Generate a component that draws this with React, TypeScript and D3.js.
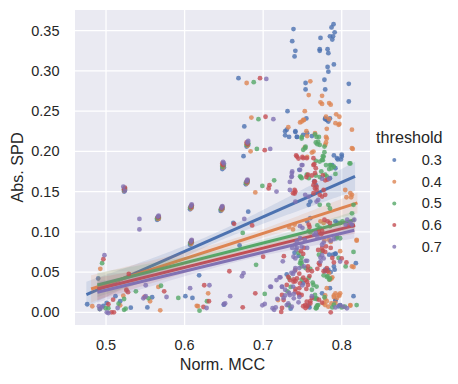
import React from "react";
import * as d3 from "d3";

type P = [number, number];

const thresholds = ["0.3", "0.4", "0.5", "0.6", "0.7"];
const colors = ["#4c72b0", "#dd8452", "#55a868", "#c44e52", "#8172b3"];
const xTicks = [0.5, 0.6, 0.7, 0.8];
const yTicks = [0, 0.05, 0.1, 0.15, 0.2, 0.25, 0.3, 0.35];

const pts03: P[] = [
  [0.7386, 0.352], [0.737, 0.337], [0.741, 0.325], [0.74, 0.318], [0.7896, 0.358], [0.787, 0.354], [0.791, 0.348],
  [0.785, 0.343], [0.789, 0.343], [0.788, 0.339], [0.773, 0.341], [0.772, 0.327], [0.772, 0.325], [0.782, 0.327],
  [0.783, 0.322], [0.79, 0.308], [0.782, 0.305], [0.783, 0.299], [0.6686, 0.291], [0.778, 0.289], [0.754, 0.285],
  [0.754, 0.277], [0.779, 0.277], [0.809, 0.284], [0.809, 0.262], [0.731, 0.25], [0.755, 0.241], [0.779, 0.24],
  [0.676, 0.231], [0.728, 0.225], [0.733, 0.218], [0.728, 0.22], [0.741, 0.224], [0.762, 0.219], [0.743, 0.218],
  [0.675, 0.194], [0.79, 0.195], [0.795, 0.19], [0.799, 0.19], [0.8, 0.196], [0.788, 0.183], [0.792, 0.179], [0.746, 0.177],
  [0.765, 0.163], [0.767, 0.158], [0.681, 0.125], [0.662, 0.111], [0.76, 0.117], [0.756, 0.113], [0.792, 0.113],
  [0.795, 0.111], [0.74, 0.074], [0.745, 0.07], [0.784, 0.0716], [0.792, 0.0725], [0.789, 0.0716], [0.818, 0.061],
  [0.779, 0.053], [0.786, 0.05], [0.791, 0.053], [0.79, 0.057], [0.73, 0.047], [0.751, 0.0364], [0.775, 0.0236],
  [0.815, 0.02], [0.759, 0.006], [0.758, 0.0087], [0.792, 0.0145], [0.796, 0.0075], [0.735, 0.0045], [0.67, 0.083],
  [0.65, 0.0095], [0.6185, 0.046], [0.601, 0.02], [0.61, 0.0178], [0.5587, 0.0187], [0.5526, 0.006], [0.5315, 0.0057],
  [0.518, 0.0137], [0.512, 0.02], [0.4966, 0.008], [0.5008, 0.0116], [0.476, 0.01], [0.49, 0.042],
  [0.779, 0.241], [0.781, 0.239], [0.785, 0.241], [0.783, 0.237], [0.73, 0.227], [0.741, 0.225], [0.743, 0.218],
  [0.751, 0.2205], [0.756, 0.2226], [0.794, 0.1915], [0.8, 0.1935], [0.785, 0.1667], [0.76, 0.1376], [0.758, 0.1335],
  [0.779, 0.051], [0.783, 0.0526], [0.785, 0.03], [0.798, 0.009], [0.792, 0.0153], [0.792, 0.073],
  [0.523, 0.15], [0.524, 0.152], [0.648, 0.178], [0.65, 0.18], [0.607, 0.128], [0.609, 0.13], [0.646, 0.126],
  [0.648, 0.128], [0.679, 0.206], [0.681, 0.208], [0.678, 0.159], [0.68, 0.161], [0.565, 0.115], [0.567, 0.116],
  [0.607, 0.084], [0.609, 0.086],
];

const pts04: P[] = [
  [0.679, 0.285], [0.76, 0.287], [0.758, 0.27], [0.775, 0.269], [0.773, 0.261], [0.775, 0.259], [0.784, 0.26],
  [0.786, 0.258], [0.753, 0.25], [0.793, 0.246], [0.685, 0.242], [0.752, 0.239], [0.78, 0.243], [0.784, 0.24],
  [0.797, 0.243], [0.792, 0.235], [0.797, 0.234], [0.747, 0.236], [0.732, 0.23], [0.756, 0.219], [0.755, 0.225],
  [0.781, 0.228], [0.78, 0.218], [0.78, 0.211], [0.753, 0.205], [0.814, 0.203], [0.813, 0.227], [0.684, 0.2],
  [0.756, 0.193], [0.762, 0.1985], [0.69, 0.149], [0.806, 0.143], [0.812, 0.143], [0.74, 0.109], [0.738, 0.103],
  [0.733, 0.106], [0.773, 0.113], [0.777, 0.111], [0.784, 0.09], [0.786, 0.0875], [0.778, 0.0895], [0.798, 0.076],
  [0.819, 0.089], [0.815, 0.0563], [0.784, 0.049], [0.788, 0.0435], [0.785, 0.0405], [0.779, 0.021], [0.779, 0.0165],
  [0.781, 0.0137], [0.79, 0.021], [0.794, 0.0178], [0.792, 0.0116], [0.797, 0.0207], [0.811, 0.0082], [0.719, 0.0153],
  [0.63, 0.0236], [0.6155, 0.008], [0.617, 0.0075], [0.569, 0.0025], [0.5666, 0.0315], [0.556, 0.0137], [0.526, 0.027],
  [0.518, 0.0087], [0.522, 0.0207], [0.4825, 0.0075], [0.4927, 0.054],
  [0.751, 0.239], [0.749, 0.237], [0.796, 0.233], [0.766, 0.2226], [0.781, 0.216], [0.779, 0.208], [0.813, 0.204],
  [0.764, 0.1998], [0.8045, 0.152], [0.811, 0.148], [0.813, 0.146], [0.787, 0.042], [0.781, 0.03], [0.792, 0.0236],
  [0.796, 0.0215], [0.798, 0.0236], [0.79, 0.019], [0.777, 0.011], [0.779, 0.009], [0.783, 0.007], [0.787, 0.011],
  [0.811, 0.009], [0.813, 0.057], [0.819, 0.09],
  [0.523, 0.151], [0.524, 0.153], [0.649, 0.18], [0.648, 0.182], [0.608, 0.129], [0.609, 0.131], [0.647, 0.127],
  [0.648, 0.129], [0.68, 0.207], [0.679, 0.209], [0.679, 0.16], [0.68, 0.162], [0.566, 0.116], [0.567, 0.117],
  [0.608, 0.085], [0.609, 0.087],
];

const pts05: P[] = [
  [0.688, 0.286], [0.694, 0.24], [0.692, 0.203], [0.749, 0.218], [0.766, 0.221], [0.771, 0.218], [0.767, 0.211],
  [0.769, 0.209], [0.778, 0.206], [0.754, 0.206], [0.767, 0.188], [0.776, 0.194], [0.778, 0.199], [0.776, 0.189],
  [0.81, 0.185], [0.78, 0.183], [0.786, 0.183], [0.784, 0.178], [0.748, 0.168], [0.767, 0.17], [0.772, 0.168],
  [0.774, 0.175], [0.792, 0.172], [0.699, 0.157], [0.714, 0.164], [0.815, 0.1335], [0.813, 0.123], [0.674, 0.0986],
  [0.758, 0.101], [0.76, 0.0995], [0.772, 0.105], [0.769, 0.108], [0.785, 0.107], [0.798, 0.111], [0.801, 0.113],
  [0.793, 0.092], [0.771, 0.0716], [0.775, 0.076], [0.745, 0.0738], [0.749, 0.0684], [0.815, 0.075], [0.796, 0.0675],
  [0.805, 0.057], [0.748, 0.064], [0.749, 0.061], [0.76, 0.054], [0.749, 0.0406], [0.733, 0.0427], [0.782, 0.045],
  [0.784, 0.0406], [0.758, 0.0427], [0.763, 0.0369], [0.735, 0.0315], [0.731, 0.026], [0.765, 0.017], [0.768, 0.0165],
  [0.778, 0.0187], [0.768, 0.0053], [0.769, 0.0087], [0.767, 0.005], [0.788, 0.006], [0.79, 0.0095], [0.8, 0.006],
  [0.804, 0.007], [0.733, 0.0087], [0.702, 0.0228], [0.691, 0.059], [0.6285, 0.0137], [0.619, 0.002], [0.592, 0.0178],
  [0.57, 0.033], [0.554, 0.0174], [0.538, 0.026], [0.516, 0.0107], [0.523, 0.0165], [0.523, 0.003], [0.525, 0.0045],
  [0.492, 0.004], [0.4995, 0.005], [0.503, 0.005], [0.495, 0.061],
  [0.749, 0.216], [0.768, 0.218], [0.77, 0.212], [0.772, 0.208], [0.7535, 0.204], [0.751, 0.202], [0.777, 0.1935],
  [0.775, 0.1894], [0.772, 0.1873], [0.785, 0.183], [0.79, 0.181], [0.787, 0.179], [0.811, 0.185], [0.747, 0.169],
  [0.749, 0.1667], [0.7555, 0.171], [0.758, 0.1667], [0.779, 0.171], [0.781, 0.169], [0.772, 0.1335], [0.783, 0.1335],
  [0.785, 0.129], [0.747, 0.061], [0.749, 0.057], [0.754, 0.055], [0.764, 0.034], [0.768, 0.032], [0.762, 0.028],
  [0.777, 0.046], [0.781, 0.044], [0.785, 0.042], [0.766, 0.0215], [0.768, 0.0174], [0.77, 0.009], [0.768, 0.007],
  [0.732, 0.009], [0.819, 0.009], [0.794, 0.094], [0.798, 0.092],
  [0.523, 0.152], [0.524, 0.154], [0.648, 0.181], [0.65, 0.183], [0.607, 0.13], [0.609, 0.132], [0.646, 0.128],
  [0.648, 0.13], [0.679, 0.208], [0.681, 0.21], [0.678, 0.161], [0.68, 0.163], [0.565, 0.117], [0.567, 0.118],
  [0.607, 0.086], [0.609, 0.088],
];

const pts06: P[] = [
  [0.696, 0.291], [0.703, 0.243], [0.702, 0.2015], [0.742, 0.195], [0.745, 0.191], [0.75, 0.193], [0.765, 0.184],
  [0.767, 0.179], [0.764, 0.1915], [0.766, 0.173], [0.765, 0.162], [0.768, 0.152], [0.764, 0.148], [0.776, 0.17],
  [0.779, 0.164], [0.782, 0.165], [0.757, 0.171], [0.755, 0.168], [0.762, 0.17], [0.708, 0.158], [0.707, 0.154],
  [0.74, 0.152], [0.74, 0.1475], [0.663, 0.11], [0.686, 0.108], [0.758, 0.109], [0.759, 0.106], [0.771, 0.1],
  [0.774, 0.097], [0.775, 0.101], [0.778, 0.115], [0.782, 0.113], [0.785, 0.111], [0.809, 0.108], [0.814, 0.108],
  [0.752, 0.08], [0.748, 0.076], [0.751, 0.0725], [0.776, 0.0766], [0.78, 0.082], [0.786, 0.08], [0.79, 0.062],
  [0.788, 0.0675], [0.806, 0.062], [0.771, 0.061], [0.772, 0.059], [0.777, 0.051], [0.782, 0.051], [0.781, 0.055],
  [0.757, 0.057], [0.757, 0.052], [0.759, 0.045], [0.762, 0.051], [0.769, 0.054], [0.739, 0.041], [0.741, 0.0386],
  [0.746, 0.048], [0.751, 0.043], [0.754, 0.04], [0.741, 0.029], [0.746, 0.03], [0.757, 0.034], [0.755, 0.029],
  [0.746, 0.022], [0.762, 0.0178], [0.76, 0.0137], [0.775, 0.012], [0.771, 0.0157], [0.751, 0.0075], [0.754, 0.0053],
  [0.756, 0.0075], [0.786, 0.0], [0.724, 0.0054], [0.723, 0.0004], [0.7, 0.069], [0.7264, 0.0697], [0.69, 0.0236],
  [0.674, 0.0062], [0.657, 0.051], [0.625, 0.0336], [0.631, 0.0137], [0.624, 0.0066], [0.574, 0.026], [0.549, 0.019],
  [0.529, 0.0476], [0.526, 0.028], [0.528, 0.025], [0.509, 0.0157], [0.503, 0.01], [0.507, 0.0], [0.51, 0.0],
  [0.4966, 0.066],
  [0.743, 0.1935], [0.751, 0.1915], [0.7555, 0.1915], [0.764, 0.183], [0.766, 0.1625], [0.764, 0.158], [0.766, 0.154],
  [0.768, 0.156], [0.741, 0.15], [0.738, 0.148], [0.772, 0.146], [0.775, 0.1438], [0.779, 0.146], [0.777, 0.152],
  [0.741, 0.0526], [0.732, 0.044], [0.734, 0.04], [0.73, 0.034], [0.7386, 0.038], [0.743, 0.042], [0.747, 0.036],
  [0.756, 0.038], [0.741, 0.0256], [0.745, 0.0236], [0.749, 0.0215], [0.724, 0.0215], [0.726, 0.0153], [0.7535, 0.009],
  [0.7555, 0.0132], [0.76, 0.011], [0.8, 0.067], [0.77, 0.0775], [0.775, 0.08], [0.779, 0.075],
  [0.523, 0.153], [0.524, 0.155], [0.649, 0.183], [0.648, 0.185], [0.608, 0.131], [0.609, 0.133], [0.647, 0.129],
  [0.648, 0.131], [0.68, 0.209], [0.679, 0.211], [0.679, 0.162], [0.68, 0.164], [0.566, 0.118], [0.567, 0.119],
  [0.608, 0.087], [0.609, 0.089],
];

const pts07: P[] = [
  [0.704, 0.29], [0.713, 0.24], [0.709, 0.203], [0.75, 0.183], [0.737, 0.175], [0.736, 0.168], [0.775, 0.166],
  [0.784, 0.166], [0.734, 0.152], [0.734, 0.162], [0.717, 0.15], [0.676, 0.116], [0.747, 0.107], [0.75, 0.105],
  [0.765, 0.0965], [0.767, 0.0986], [0.769, 0.094], [0.805, 0.109], [0.807, 0.115], [0.811, 0.111], [0.813, 0.109],
  [0.816, 0.115], [0.79, 0.091], [0.786, 0.089], [0.775, 0.084], [0.777, 0.0866], [0.743, 0.088], [0.741, 0.084],
  [0.737, 0.08], [0.742, 0.078], [0.773, 0.068], [0.773, 0.063], [0.754, 0.064], [0.756, 0.064], [0.752, 0.057],
  [0.746, 0.055], [0.725, 0.0634], [0.736, 0.049], [0.741, 0.055], [0.74, 0.051], [0.738, 0.0476], [0.721, 0.0435],
  [0.722, 0.0435], [0.717, 0.04], [0.709, 0.032], [0.71, 0.0315], [0.724, 0.0315], [0.738, 0.032], [0.75, 0.0336],
  [0.733, 0.024], [0.739, 0.0228], [0.728, 0.021], [0.726, 0.0178], [0.746, 0.019], [0.762, 0.02], [0.745, 0.0124],
  [0.718, 0.0166], [0.712, 0.005], [0.714, 0.003], [0.716, 0.006], [0.699, 0.0087], [0.702, 0.0103], [0.792, 0.006],
  [0.798, 0.0087], [0.675, 0.0485], [0.673, 0.0448], [0.658, 0.02], [0.65, 0.01], [0.6516, 0.011], [0.628, 0.0053],
  [0.6316, 0.0336], [0.607, 0.03], [0.577, 0.019], [0.5505, 0.0336], [0.5475, 0.0174], [0.5505, 0.02], [0.5425, 0.116],
  [0.5425, 0.103], [0.5148, 0.0053], [0.491, 0.0075], [0.4945, 0.006], [0.492, 0.004], [0.501, 0.0], [0.503, -0.001],
  [0.498, 0.071],
  [0.749, 0.183], [0.747, 0.177], [0.7365, 0.173], [0.7365, 0.169], [0.7535, 0.146], [0.758, 0.1438], [0.77, 0.1397],
  [0.768, 0.1376], [0.741, 0.1376], [0.7386, 0.069], [0.741, 0.067], [0.724, 0.032], [0.728, 0.028], [0.734, 0.0215],
  [0.739, 0.0174], [0.732, 0.011], [0.73, 0.009], [0.7365, 0.007], [0.802, 0.007], [0.8066, 0.005], [0.798, 0.063],
  [0.775, 0.071], [0.777, 0.067], [0.756, 0.08], [0.749, 0.0816], [0.743, 0.08], [0.747, 0.092], [0.753, 0.09],
  [0.522, 0.156], [0.524, 0.151], [0.65, 0.185], [0.649, 0.187], [0.608, 0.132], [0.609, 0.134], [0.647, 0.13],
  [0.648, 0.132], [0.68, 0.211], [0.681, 0.213], [0.679, 0.163], [0.68, 0.165], [0.566, 0.119], [0.567, 0.12],
  [0.608, 0.088], [0.609, 0.09],
];

// fitted regression lines: [x0, y0, x1, y1]
const fits: number[][] = [
  [0.475, 0.022, 0.817, 0.169],
  [0.481, 0.029, 0.82, 0.136],
  [0.489, 0.034, 0.817, 0.115],
  [0.489, 0.029, 0.817, 0.108],
  [0.489, 0.025, 0.816, 0.102],
];
// CI half widths: [left, min, right]
const cis: number[][] = [
  [0.016, 0.006, 0.018],
  [0.017, 0.005, 0.013],
  [0.015, 0.004, 0.011],
  [0.014, 0.004, 0.01],
  [0.013, 0.004, 0.01],
];

const allPts = [pts03, pts04, pts05, pts06, pts07];

const W = 458;
const H = 384;
const L = 75, R = 370, T = 10, B = 325;
const FONT = "'Liberation Sans', Arial, sans-serif";
const TXT = "#262626";

export default function App() {
  const x = d3.scaleLinear().domain([0.4605, 0.836]).range([L, R]);
  const y = d3.scaleLinear().domain([-0.0158, 0.3757]).range([B, T]);

  const bandFor = (i: number) => {
    const [x0, y0, x1, y1] = fits[i];
    const [hL, hM, hR] = cis[i];
    const A = Math.sqrt(hL * hL - hM * hM);
    const Bq = Math.sqrt(hR * hR - hM * hM);
    const xm = x0 + ((x1 - x0) * A) / (A + Bq);
    const k = (A + Bq) / (x1 - x0);
    const line = (v: number) => y0 + ((y1 - y0) * (v - x0)) / (x1 - x0);
    const hw = (v: number) => Math.sqrt(hM * hM + (k * (v - xm)) ** 2);
    const xs = d3.range(0, 101).map((j) => x0 + ((x1 - x0) * j) / 100);
    const area = d3
      .area<number>()
      .x((v) => x(v))
      .y0((v) => y(line(v) - hw(v)))
      .y1((v) => y(line(v) + hw(v)));
    const ln = d3
      .line<number>()
      .x((v) => x(v))
      .y((v) => y(line(v)));
    return { area: area(xs) || "", line: ln([x0, x1]) || "" };
  };

  return (
    <svg width={W} height={H} style={{ position: "absolute", left: 0, top: 0 }} fontFamily={FONT}>
      <rect x={0} y={0} width={W} height={H} fill="#ffffff" />
      <rect x={L} y={T} width={R - L} height={B - T} fill="#eaeaf2" />
      {xTicks.map((t) => (
        <line key={"gx" + t} x1={x(t)} x2={x(t)} y1={T} y2={B} stroke="#fff" strokeWidth={1.3} />
      ))}
      {yTicks.map((t) => (
        <line key={"gy" + t} x1={L} x2={R} y1={y(t)} y2={y(t)} stroke="#fff" strokeWidth={1.3} />
      ))}
      <defs>
        <clipPath id="plotclip">
          <rect x={L} y={T} width={R - L} height={B - T} />
        </clipPath>
      </defs>
      <g clipPath="url(#plotclip)">
        {allPts.map((pts, i) => {
          const b = bandFor(i);
          return (
            <g key={"s" + i}>
              {pts.map((p, j) => (
                <circle key={j} cx={x(p[0])} cy={y(p[1])} r={2.4} fill={colors[i]} fillOpacity={0.8} />
              ))}
              <path d={b.area} fill={colors[i]} fillOpacity={0.15} />
              <path d={b.line} stroke={colors[i]} strokeWidth={3} fill="none" />
            </g>
          );
        })}
      </g>
      {xTicks.map((t) => (
        <text key={"xt" + t} x={x(t)} y={349.5} textAnchor="middle" fontSize={14.5} fill={TXT}>
          {t.toFixed(1)}
        </text>
      ))}
      {yTicks.map((t) => (
        <text key={"yt" + t} x={59.5} y={y(t)} dy="0.35em" textAnchor="end" fontSize={14.5} fill={TXT}>
          {t.toFixed(2)}
        </text>
      ))}
      <text x={(L + R) / 2} y={370} textAnchor="middle" fontSize={16.2} fill={TXT}>
        Norm. MCC
      </text>
      <text
        transform={`translate(22.5, ${(T + B) / 2}) rotate(-90)`}
        textAnchor="middle"
        fontSize={16.2}
        fill={TXT}
      >
        Abs. SPD
      </text>
      <text x={376} y={143} fontSize={16.2} fill={TXT}>
        threshold
      </text>
      {thresholds.map((t, i) => (
        <g key={"lg" + t}>
          <circle cx={394.3} cy={160 + i * 21.7} r={2} fill={colors[i]} fillOpacity={0.8} />
          <text x={421.7} y={160 + i * 21.7} dy="0.35em" fontSize={14.5} fill={TXT}>
            {t}
          </text>
        </g>
      ))}
    </svg>
  );
}
